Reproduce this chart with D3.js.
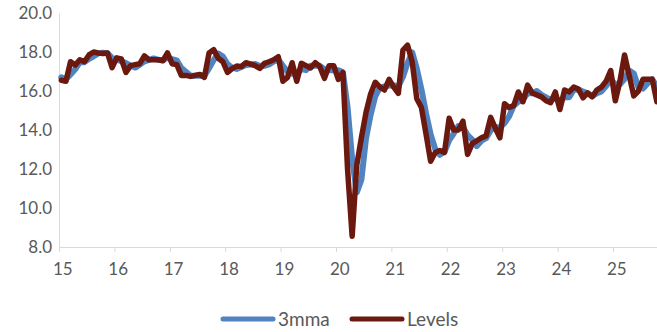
<!DOCTYPE html>
<html>
<head>
<meta charset="utf-8">
<script src="https://cdn.jsdelivr.net/npm/d3@7"></script>
<style>
  html, body { margin: 0; padding: 0; background: #fff; }
  svg { display: block; }
  text { font-family: Lato, "Open Sans", sans-serif; fill: #595959; }
</style>
</head>
<body>
<svg id="chart" width="657" height="332"></svg>
<script>
// Monthly series, Jan 2015 onwards
const levels = [
  16.55, 16.5, 17.5, 17.33, 17.6, 17.5, 17.85, 18.0, 17.95, 17.92, 17.95, 17.2,
  17.7, 17.65, 16.95, 17.3, 17.35, 17.4, 17.8, 17.6, 17.6, 17.6, 17.55, 17.95,
  17.4, 17.35, 16.8, 16.8, 16.75, 16.8, 16.85, 16.7, 17.95, 18.12, 17.68, 17.5,
  16.95, 17.15, 17.28, 17.25, 17.45, 17.38, 17.3, 17.16, 17.42, 17.5, 17.6, 17.76,
  16.5, 16.7, 17.45, 16.5, 17.42, 17.3, 17.18, 17.45, 17.25, 16.65, 17.3, 17.3,
  16.6, 16.95, 12.0, 8.55, 12.2, 13.6, 14.9, 15.85, 16.45, 16.2, 16.05, 16.6,
  16.2, 15.88, 18.1, 18.35, 17.5, 15.6, 15.15, 13.8, 12.4, 12.85, 12.95, 12.85,
  14.6, 14.0, 14.0, 14.45, 12.75, 13.3, 13.45, 13.6, 13.7, 14.65, 14.1, 13.6,
  15.35, 15.15, 15.25, 15.95, 15.45, 16.3, 15.9, 15.8, 15.7, 15.5, 15.4, 15.95,
  15.05, 16.05, 15.95, 16.2, 16.1, 15.65, 15.9, 15.7, 16.05, 16.2, 16.5, 17.05,
  15.5, 16.5, 17.85, 16.8, 15.75, 16.0, 16.6, 16.6, 16.6, 15.45
];

const mma3 = [
  16.7, 16.6, 16.85, 17.11, 17.48, 17.48, 17.65, 17.78, 17.93, 17.96, 17.94, 17.69,
  17.62, 17.52, 17.43, 17.3, 17.2, 17.35, 17.52, 17.6, 17.67, 17.6, 17.58, 17.7,
  17.63, 17.57, 17.18, 16.98, 16.78, 16.78, 16.8, 16.78, 17.17, 17.59, 17.92, 17.77,
  17.38, 17.2, 17.13, 17.23, 17.33, 17.36, 17.38, 17.28, 17.29, 17.36, 17.51, 17.62,
  17.29, 16.99, 16.88, 16.88, 17.12, 17.07, 17.3, 17.31, 17.29, 17.12, 17.07, 17.08,
  17.07, 16.95, 15.18, 12.5, 10.8, 11.45, 13.57, 14.78, 15.73, 16.17, 16.23, 16.28,
  16.28, 16.23, 16.73, 17.44, 17.98, 17.15, 16.08, 14.85, 13.78, 13.02, 12.73, 12.88,
  13.47, 13.82, 14.2, 14.15, 13.73, 13.5, 13.17, 13.45, 13.58, 13.98, 14.15, 14.12,
  14.35, 14.7, 15.25, 15.45, 15.55, 15.9, 15.88, 16.0, 15.8, 15.67, 15.53, 15.62,
  15.47, 15.68, 15.68, 16.07, 16.08, 15.98, 15.88, 15.75, 15.88, 15.98, 16.25, 16.58,
  16.35, 16.35, 16.62, 17.05, 16.9, 16.18, 16.12, 16.4, 16.6, 16.22
];

const yearLabels = ["15", "16", "17", "18", "19", "20", "21", "22", "23", "24", "25"];
const yTicks = [8, 10, 12, 14, 16, 18, 20];

const seriesNames = ["3mma", "Levels"];
const seriesColors = ["#5183c0", "#6b190f"];

const svg = d3.select("#chart");
const monthW = 55.4 / 12;
const nMonths = levels.length;
const plotLeft = 59, plotBottom = 247, plotTop = 13;

const x = d3.scaleLinear().domain([0, nMonths]).range([plotLeft, plotLeft + nMonths * monthW]);
const y = d3.scaleLinear().domain([8, 20]).range([plotBottom, plotTop]);

// Axes
const xAxis = d3.axisBottom(x)
  .tickValues(yearLabels.map((d, i) => i * 12))
  .tickFormat((d, i) => yearLabels[i])
  .tickSize(5)
  .tickPadding(11);

const gx = svg.append("g")
  .attr("transform", `translate(0,${plotBottom})`)
  .call(xAxis);
gx.select(".domain").attr("stroke", "#d9d9d9").attr("d", `M${plotLeft},0.5H${x(nMonths)}`);
gx.selectAll(".tick line").attr("stroke", "#d9d9d9");
gx.selectAll(".tick text")
  .attr("x", x(0.5) - x(0) + 1)
  .attr("font-size", 17)
  .style("font-family", "Lato, sans-serif")
  .attr("fill", "#595959");

const yAxis = d3.axisLeft(y)
  .tickValues(yTicks)
  .tickFormat(d3.format(".1f"))
  .tickSize(0)
  .tickPadding(7);

const gy = svg.append("g")
  .attr("transform", `translate(${plotLeft},0)`)
  .call(yAxis);
gy.select(".domain").attr("stroke", "#d9d9d9");
gy.selectAll(".tick text")
  .attr("font-size", 17)
  .style("font-family", "Lato, sans-serif")
  .attr("fill", "#595959");

svg.selectAll(".domain").attr("fill", "none");

// Lines
const line = d3.line()
  .x((d, i) => x(i + 0.5))
  .y(d => y(d));

[mma3, levels].forEach((series, k) => {
  svg.append("path")
    .datum(series)
    .attr("fill", "none")
    .attr("stroke", seriesColors[k])
    .attr("stroke-width", k === 0 ? 6 : 5.5)
    .attr("stroke-linejoin", "round")
    .attr("stroke-linecap", "round")
    .attr("d", line);
});

// Legend
const legendY = 319;
const legendX = [223, 352];
const legend = svg.append("g");
seriesNames.forEach((name, k) => {
  legend.append("line")
    .attr("x1", legendX[k]).attr("x2", legendX[k] + 50)
    .attr("y1", legendY).attr("y2", legendY)
    .attr("stroke", seriesColors[k])
    .attr("stroke-width", 5)
    .attr("stroke-linecap", "round");
  legend.append("text")
    .attr("x", legendX[k] + 55)
    .attr("y", legendY)
    .attr("dy", "0.35em")
    .attr("font-size", 19)
    .text(name);
});
</script>
</body>
</html>
